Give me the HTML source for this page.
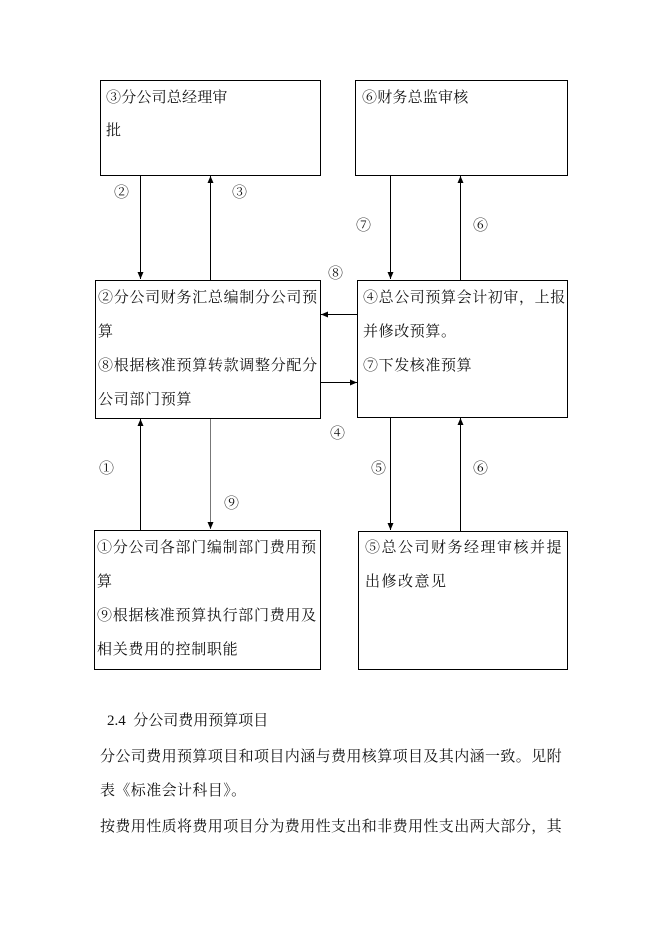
<!DOCTYPE html>
<html><head><meta charset="utf-8"><style>
body{margin:0;width:662px;height:936px;background:#fff;position:relative;overflow:hidden;font-family:"Liberation Serif","Noto Serif CJK SC","Noto Sans CJK SC",serif;color:#111}
.t{position:absolute;font-size:15px;line-height:18px;white-space:nowrap}
svg{position:absolute;left:0;top:0}
</style></head><body>
<svg width="662" height="936">
<defs><marker id="a" markerWidth="8" markerHeight="8" refX="7" refY="4" orient="auto" markerUnits="userSpaceOnUse"><path d="M0,1 L7,4 L0,7Z" fill="#000"/></marker></defs>
<g fill="none" stroke="#000" stroke-width="1">
<rect x="100.5" y="80.5" width="220" height="95"/>
<rect x="355.5" y="80.5" width="212" height="95"/>
<rect x="95.5" y="280.5" width="225" height="138"/>
<rect x="357.5" y="280.5" width="210" height="137"/>
<rect x="94.5" y="530.5" width="226" height="139"/>
<rect x="358.5" y="531.5" width="209" height="138"/>
<line x1="140.5" y1="176" x2="140.5" y2="279" marker-end="url(#a)"/>
<line x1="210.5" y1="280" x2="210.5" y2="176" marker-end="url(#a)"/>
<line x1="390.5" y1="176" x2="390.5" y2="279" marker-end="url(#a)"/>
<line x1="460.5" y1="280" x2="460.5" y2="176" marker-end="url(#a)"/>
<line x1="357" y1="314.5" x2="321" y2="314.5" marker-end="url(#a)"/>
<line x1="321" y1="382.5" x2="357" y2="382.5" marker-end="url(#a)"/>
<line x1="140.5" y1="530" x2="140.5" y2="419" marker-end="url(#a)"/>
<line x1="210.5" y1="419" x2="210.5" y2="529" stroke="#777" marker-end="url(#a)"/>
<line x1="390.5" y1="418" x2="390.5" y2="530" marker-end="url(#a)"/>
<line x1="460.5" y1="531" x2="460.5" y2="418" marker-end="url(#a)"/>
</g></svg>
<div class="t" style="left:106px;top:89px;letter-spacing:0.2px">③分公司总经理审</div>
<div class="t" style="left:106px;top:122px">批</div>
<div class="t" style="left:362px;top:89px;letter-spacing:0.2px">⑥财务总监审核</div>
<div class="t" style="left:98px;top:289px;letter-spacing:0.7px">②分公司财务汇总编制分公司预</div>
<div class="t" style="left:98px;top:323px">算</div>
<div class="t" style="left:98px;top:357px;letter-spacing:0.7px">⑧根据核准预算转款调整分配分</div>
<div class="t" style="left:98px;top:391px;letter-spacing:0.7px">公司部门预算</div>
<div class="t" style="left:363px;top:289px;letter-spacing:0.6px">④总公司预算会计初审，上报</div>
<div class="t" style="left:363px;top:323px;letter-spacing:0.6px">并修改预算。</div>
<div class="t" style="left:363px;top:357px;letter-spacing:0.6px">⑦下发核准预算</div>
<div class="t" style="left:97px;top:539px;letter-spacing:0.7px">①分公司各部门编制部门费用预</div>
<div class="t" style="left:97px;top:573px">算</div>
<div class="t" style="left:97px;top:607px;letter-spacing:0.7px">⑨根据核准预算执行部门费用及</div>
<div class="t" style="left:97px;top:641px;letter-spacing:0.7px">相关费用的控制职能</div>
<div class="t" style="left:365px;top:539px;letter-spacing:1.5px">⑤总公司财务经理审核并提</div>
<div class="t" style="left:365px;top:573px;letter-spacing:1.5px">出修改意见</div>
<div class="t" style="left:114px;top:184px">②</div>
<div class="t" style="left:232px;top:184px">③</div>
<div class="t" style="left:356px;top:217px">⑦</div>
<div class="t" style="left:473px;top:217px">⑥</div>
<div class="t" style="left:328px;top:265px">⑧</div>
<div class="t" style="left:330px;top:425px">④</div>
<div class="t" style="left:99px;top:460px">①</div>
<div class="t" style="left:224px;top:495px">⑨</div>
<div class="t" style="left:371px;top:460px">⑤</div>
<div class="t" style="left:473px;top:460px">⑥</div>
<div class="t" style="left:107px;top:712px;font-size:15px">2.4&nbsp; 分公司费用预算项目</div>
<div class="t" style="left:100px;top:748px;letter-spacing:0.4px">分公司费用预算项目和项目内涵与费用核算项目及其内涵一致。见附</div>
<div class="t" style="left:100px;top:782px;letter-spacing:0.4px">表《标准会计科目》。</div>
<div class="t" style="left:100px;top:818px;letter-spacing:0.4px">按费用性质将费用项目分为费用性支出和非费用性支出两大部分，其</div>
</body></html>
